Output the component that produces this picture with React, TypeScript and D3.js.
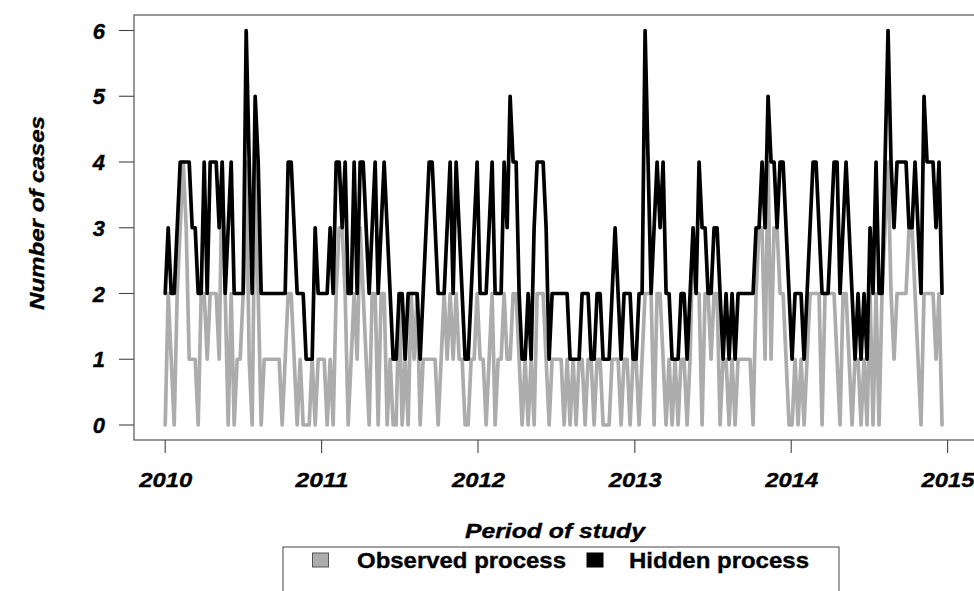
import React from 'react';
import * as d3 from 'd3';

const START_MS = Date.UTC(2010, 0, 1);
const END_MS = Date.UTC(2015, 0, 1);
const WEEK_MS = 7 * 86400000;

const yearTicks = [2010, 2011, 2012, 2013, 2014, 2015];
const yTicks = [0, 1, 2, 3, 4, 5, 6];
const legendLabels = ['Observed process', 'Hidden process'];

// weekly counts, observed (grey) and hidden (black)
const observed = [
  0, 2, 1, 0, 2, 3, 4, 3, 1, 1,
  1, 0, 2, 2, 1, 2, 2, 2, 1, 4,
  2, 0, 2, 0, 1, 1, 2, 4, 1, 0,
  4, 2, 0, 1, 1, 1, 1, 1, 1, 0,
  1, 2, 2, 1, 0, 1, 0, 0, 0, 1,
  0, 1, 1, 1, 0, 1, 0, 2, 3, 3,
  2, 0, 1, 2, 1, 3, 2, 1, 0, 2,
  2, 0, 2, 2, 0, 1, 0, 0, 2, 0,
  1, 0, 2, 1, 2, 0, 1, 1, 1, 1,
  1, 0, 1, 2, 1, 2, 1, 2, 1, 1,
  0, 0, 1, 1, 2, 1, 1, 0, 1, 2,
  0, 1, 1, 2, 1, 1, 2, 2, 1, 0,
  1, 0, 1, 0, 2, 2, 2, 1, 0, 1,
  1, 1, 1, 0, 1, 0, 1, 0, 1, 1,
  0, 1, 1, 0, 1, 1, 0, 0, 0, 1,
  1, 1, 0, 1, 1, 0, 1, 1, 0, 1,
  2, 2, 2, 0, 2, 2, 1, 0, 1, 0,
  1, 0, 1, 1, 0, 1, 3, 2, 2, 0,
  2, 2, 1, 2, 2, 0, 1, 1, 0, 1,
  0, 1, 1, 1, 1, 1, 0, 2, 3, 3,
  1, 4, 1, 3, 3, 2, 2, 1, 0, 0,
  1, 0, 1, 0, 1, 2, 2, 2, 2, 0,
  2, 2, 2, 2, 1, 0, 2, 2, 1, 0,
  1, 1, 0, 1, 0, 2, 0, 2, 0, 2,
  3, 4, 2, 1, 2, 2, 2, 2, 3, 3,
  2, 1, 0, 2, 2, 2, 2, 1, 2, 0,
];

const hidden = [
  2, 3, 2, 2, 3, 4, 4, 4, 4, 3,
  3, 2, 2, 4, 2, 4, 4, 4, 3, 4,
  2, 3, 4, 2, 2, 2, 2, 6, 4, 2,
  5, 4, 2, 2, 2, 2, 2, 2, 2, 2,
  2, 4, 4, 3, 2, 2, 2, 1, 1, 1,
  3, 2, 2, 2, 2, 3, 2, 4, 4, 3,
  4, 2, 2, 4, 2, 4, 4, 3, 2, 3,
  4, 2, 3, 4, 3, 2, 1, 1, 2, 2,
  1, 2, 2, 2, 2, 1, 2, 3, 4, 4,
  3, 2, 2, 2, 3, 4, 2, 4, 3, 2,
  1, 1, 2, 3, 4, 2, 2, 2, 3, 4,
  2, 2, 2, 4, 3, 5, 4, 4, 2, 1,
  1, 2, 1, 3, 4, 4, 4, 3, 1, 2,
  2, 2, 2, 2, 2, 1, 1, 1, 1, 2,
  2, 2, 1, 1, 2, 2, 1, 1, 1, 2,
  3, 2, 1, 2, 2, 2, 1, 1, 2, 2,
  6, 4, 2, 3, 4, 3, 4, 2, 2, 1,
  1, 1, 2, 2, 1, 2, 3, 2, 4, 3,
  3, 2, 2, 3, 3, 2, 1, 2, 1, 2,
  1, 2, 2, 2, 2, 2, 2, 3, 3, 4,
  3, 5, 4, 4, 3, 4, 4, 3, 2, 1,
  2, 2, 2, 1, 2, 3, 4, 4, 3, 2,
  2, 2, 3, 4, 4, 2, 3, 4, 3, 2,
  1, 2, 1, 2, 1, 3, 2, 4, 2, 2,
  4, 6, 4, 3, 4, 4, 4, 4, 3, 3,
  4, 3, 2, 5, 4, 4, 4, 3, 4, 2,
];

const FONT = '"Liberation Sans", Arial, Helvetica, sans-serif';
const GREY = '#acacac';
const AXIS = '#444';

export default function App() {
  const W = 974;
  const H = 591;
  const boxLeft = 134;
  const boxTop = 15;
  const boxBottom = 440;
  const boxRight = 1010;

  const x = d3
    .scaleUtc()
    .domain([new Date(START_MS), new Date(END_MS)])
    .range([165.2, 947.6]);
  const y = d3.scaleLinear().domain([0, 6]).range([425, 30.5]);

  const dates = hidden.map((_, i) => new Date(START_MS + i * WEEK_MS));
  const line = d3
    .line<number>()
    .x((_, i) => x(dates[i]))
    .y((d) => y(d));

  const heavy = { stroke: '#000', strokeWidth: 0.35 } as const;

  return (
    <svg
      width={W}
      height={H}
      viewBox={`0 0 ${W} ${H}`}
      style={{ position: 'absolute', left: 0, top: 0, background: '#fff', overflow: 'hidden' }}
      fontFamily={FONT}
    >
      <rect x={0} y={0} width={W} height={H} fill="#fff" />
      {/* series */}
      <path d={line(observed) || ''} fill="none" stroke={GREY} strokeWidth={3.7} strokeLinejoin="round" strokeLinecap="round" />
      <path d={line(hidden) || ''} fill="none" stroke="#000" strokeWidth={3.7} strokeLinejoin="round" strokeLinecap="round" />

      {/* box */}
      <rect x={boxLeft} y={boxTop} width={boxRight - boxLeft} height={boxBottom - boxTop} fill="none" stroke={AXIS} strokeWidth={1.1} />

      {/* y axis */}
      {yTicks.map((t) => (
        <g key={`y${t}`}>
          <line x1={boxLeft - 15} x2={boxLeft} y1={y(t)} y2={y(t)} stroke={AXIS} strokeWidth={1.1} />
          <text x={105} y={y(t) + 8} textAnchor="end" fontSize={22} fontWeight="bold" fontStyle="italic" fill="#000" {...heavy}>
            {t}
          </text>
        </g>
      ))}

      {/* x axis */}
      {yearTicks.map((yr) => {
        const px = x(new Date(Date.UTC(yr, 0, 1)));
        return (
          <g key={`x${yr}`}>
            <line x1={px} x2={px} y1={boxBottom} y2={boxBottom + 13} stroke={AXIS} strokeWidth={1.1} />
            <text
              x={px - 26}
              y={487}
              fontSize={21}
              fontWeight="bold"
              fontStyle="italic"
              fill="#000"
              textLength={53}
              lengthAdjust="spacingAndGlyphs"
              {...heavy}
            >
              {yr}
            </text>
          </g>
        );
      })}

      {/* axis titles */}
      <text x={555} y={538} textAnchor="middle" fontSize={21} fontWeight="bold" fontStyle="italic" textLength={180} lengthAdjust="spacingAndGlyphs" {...heavy}>
        Period of study
      </text>
      <text
        transform={`translate(44,213) rotate(-90)`}
        textAnchor="middle"
        fontSize={20}
        fontWeight="bold"
        fontStyle="italic"
        textLength={194}
        lengthAdjust="spacingAndGlyphs"
        {...heavy}
      >
        Number of cases
      </text>

      {/* legend */}
      <rect x={283} y={547} width={556} height={80} fill="#fff" stroke="#555" strokeWidth={1.1} />
      <rect x={312.5} y={553} width={16} height={14} fill={GREY} stroke="#555" strokeWidth={1} />
      <text x={357} y={568} fontSize={22} fontWeight="bold" textLength={209} lengthAdjust="spacingAndGlyphs" {...heavy}>
        {legendLabels[0]}
      </text>
      <rect x={587} y={553} width={16} height={14} fill="#000" stroke="#000" strokeWidth={1} />
      <text x={629} y={568} fontSize={22} fontWeight="bold" textLength={180} lengthAdjust="spacingAndGlyphs" {...heavy}>
        {legendLabels[1]}
      </text>
    </svg>
  );
}
